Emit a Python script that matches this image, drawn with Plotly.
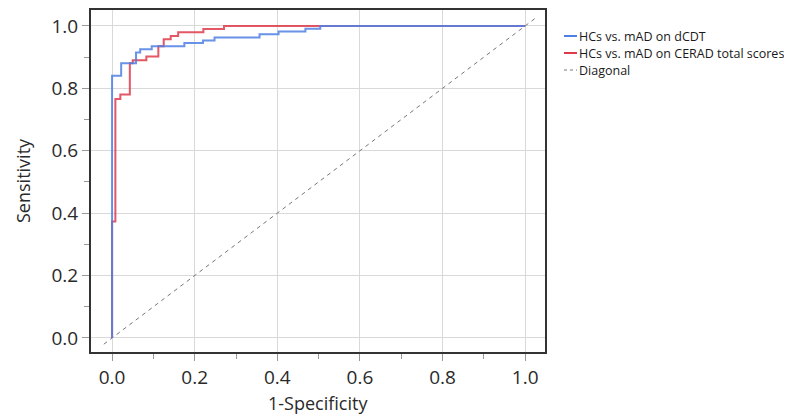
import plotly.graph_objects as go

# Data: ROC step curves
names = ["HCs vs. mAD on dCDT", "HCs vs. mAD on CERAD total scores", "Diagonal"]

fpr_dcdt = [0, 0, 0.022, 0.022, 0.058, 0.058, 0.068, 0.068, 0.096, 0.096, 0.175, 0.175,
            0.22, 0.22, 0.248, 0.248, 0.357, 0.357, 0.403, 0.403, 0.468, 0.468, 0.504, 0.504, 1.0]
tpr_dcdt = [0, 0.84, 0.84, 0.88, 0.88, 0.915, 0.915, 0.925, 0.925, 0.935, 0.935, 0.945,
            0.945, 0.953, 0.953, 0.963, 0.963, 0.973, 0.973, 0.982, 0.982, 0.991, 0.991, 1.0, 1.0]

fpr_cerad = [0, 0, 0.008, 0.008, 0.02, 0.02, 0.043, 0.043, 0.05, 0.05, 0.083, 0.083,
             0.112, 0.112, 0.125, 0.125, 0.142, 0.142, 0.16, 0.16, 0.221, 0.221, 0.271, 0.271, 1.0]
tpr_cerad = [0, 0.373, 0.373, 0.766, 0.766, 0.78, 0.78, 0.88, 0.88, 0.89, 0.89, 0.902,
             0.902, 0.935, 0.935, 0.957, 0.957, 0.968, 0.968, 0.98, 0.98, 0.99, 0.99, 1.0, 1.0]

diag_x = [-0.02, 1.025]
diag_y = [-0.02, 1.025]

x_ticks = [0.0, 0.2, 0.4, 0.6, 0.8, 1.0]
y_ticks = [0.0, 0.2, 0.4, 0.6, 0.8, 1.0]

colors = ["#4f7fe6", "#e03a4a", "#777777"]

fig = go.Figure()
fig.add_trace(go.Scatter(x=diag_x, y=diag_y, mode="lines", name=names[2],
                         line=dict(color=colors[2], width=1, dash="4px,4px"), showlegend=False))
fig.add_trace(go.Scatter(x=fpr_cerad, y=tpr_cerad, mode="lines", name=names[1],
                         line=dict(color=colors[1], width=2), opacity=0.85, showlegend=False))
fig.add_trace(go.Scatter(x=fpr_dcdt, y=tpr_dcdt, mode="lines", name=names[0],
                         line=dict(color=colors[0], width=2), opacity=0.85, showlegend=False))

font_family = "Open Sans"
axis_common = dict(
    showgrid=True, gridcolor="#d9d9d9", gridwidth=1, zeroline=False,
    showline=True, linecolor="#333333", linewidth=2, mirror=True,
    ticks="outside", ticklen=7, tickcolor="#999999", tickwidth=1,
    tickfont=dict(family=font_family, size=19, color="#2a2a2a"),
    tickformat=".1f", automargin=False,
    minor=dict(dtick=0.1, ticks="outside", ticklen=5, tickcolor="#999999", showgrid=False),
)
fig.update_xaxes(range=[-0.051, 1.048], tickvals=x_ticks, **axis_common)
fig.update_yaxes(range=[-0.045, 1.051], tickvals=y_ticks, **axis_common)

# The page body has an 8px margin, so the figure is 8px smaller and offsets are shifted
OFF = 8
W, H = 811 - OFF, 416 - OFF
L, T = 91 - OFF, 10 - OFF
R, B = W - (545 - OFF), H - (352 - OFF)
PW, PH = W - L - R, H - T - B

# Axis titles as annotations placed in the margins
fig.add_annotation(text="1-Specificity", xref="paper", yref="paper",
                   x=0.5, y=-((403 - OFF) - (H - B)) / PH, xanchor="center", yanchor="middle",
                   height=22, showarrow=False, font=dict(family=font_family, size=18, color="#2a2a2a"))
fig.add_annotation(text="Sensitivity", xref="paper", yref="paper",
                   x=-(L - (23 - OFF)) / PW, y=0.5, xanchor="center", yanchor="middle", textangle=-90,
                   showarrow=False, font=dict(family=font_family, size=18, color="#2a2a2a"))

# Manual legend (short line samples like the original)
legend_y = [36, 53, 70]
for i, (nm, col) in enumerate(zip(names, colors)):
    yp = (H - B - (legend_y[i] - OFF)) / PH
    fig.add_shape(type="line", xref="paper", yref="paper",
                  x0=(564 - OFF - L) / PW, x1=(577 - OFF - L) / PW, y0=yp, y1=yp,
                  line=dict(color=col, width=2 if i < 2 else 1, dash="solid" if i < 2 else "3px,3px"))
    fig.add_annotation(text=nm, xref="paper", yref="paper",
                       x=(578 - OFF - L) / PW, y=yp, height=15, borderpad=0,
                       xanchor="left", yanchor="middle", showarrow=False,
                       font=dict(family=font_family, size=12.5, color="#1a1a1a"))

fig.update_layout(
    width=W, height=H,
    margin=dict(l=L, r=R, t=T, b=B, autoexpand=False),
    plot_bgcolor="white", paper_bgcolor="white",
    showlegend=False,
)
fig.write_html("out.html")
